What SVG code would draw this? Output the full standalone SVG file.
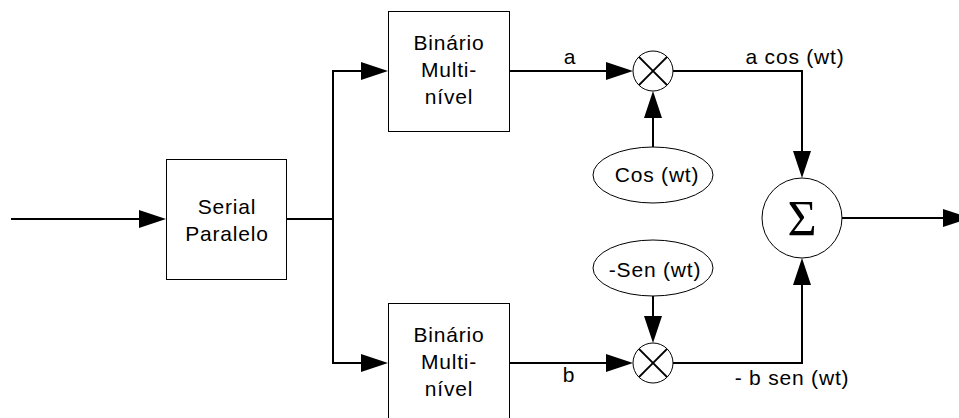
<svg xmlns="http://www.w3.org/2000/svg" width="959" height="418" viewBox="0 0 959 418">
<style>
.box{fill:#fff;stroke:#000;stroke-width:1}
.node{fill:#fff;stroke:#000;stroke-width:1}
.wire{fill:none;stroke:#000;stroke-width:2}
.x{stroke:#000;stroke-width:2}
text{font-family:"Liberation Sans",Arial,sans-serif;font-size:21px;letter-spacing:0.8px;fill:#000}
.c{text-anchor:middle}
.sig{font-family:"Liberation Serif","Times New Roman",serif;font-size:50px;letter-spacing:0}
</style>
<defs>
<marker id="ah" markerUnits="userSpaceOnUse" viewBox="0 0 27 18" refX="0" refY="9" markerWidth="27" markerHeight="18" orient="auto">
<path d="M0,0 L27,9 L0,18 Z" fill="#000"/>
</marker>
</defs>
<g id="connectors">
<path class="wire" d="M11,219 H139" marker-end="url(#ah)"/>
<path class="wire" d="M287,219 H333"/>
<path class="wire" d="M333,363 V71 H361" marker-end="url(#ah)"/>
<path class="wire" d="M333,219 V363 H361" marker-end="url(#ah)"/>
<path class="wire" d="M510,71 H606" marker-end="url(#ah)"/>
<path class="wire" d="M510,363 H606" marker-end="url(#ah)"/>
<path class="wire" d="M653,147 V118" marker-end="url(#ah)"/>
<path class="wire" d="M653,296 V316" marker-end="url(#ah)"/>
<path class="wire" d="M673,71 H802 V151" marker-end="url(#ah)"/>
<path class="wire" d="M673,363 H802 V285" marker-end="url(#ah)"/>
<path class="wire" d="M842,218 H943" marker-end="url(#ah)"/>
<text x="570" y="64" class="c">a</text>
<text x="569" y="382" class="c">b</text>
<text x="795" y="64" class="c">a cos (wt)</text>
<text x="792" y="385" class="c">- b sen (wt)</text>
</g>
<g id="serial">
<rect class="box" x="166.5" y="159.5" width="120" height="120"/>
<text x="227" y="214" class="c">Serial</text>
<text x="227" y="241" class="c">Paralelo</text>
</g>
<g id="bin-top">
<rect class="box" x="388.5" y="11.5" width="121" height="120"/>
<text x="449" y="50" class="c">Binário</text>
<text x="449" y="77" class="c">Multi-</text>
<text x="449" y="104" class="c">nível</text>
</g>
<g id="bin-bottom">
<rect class="box" x="388.5" y="303.5" width="121" height="120"/>
<text x="449" y="342" class="c">Binário</text>
<text x="449" y="369" class="c">Multi-</text>
<text x="449" y="396" class="c">nível</text>
</g>
<g id="mult-top">
<circle class="node" cx="653" cy="71" r="20"/>
<line class="x" x1="638.9" y1="56.9" x2="667.1" y2="85.1"/>
<line class="x" x1="667.1" y1="56.9" x2="638.9" y2="85.1"/>
</g>
<g id="mult-bottom">
<circle class="node" cx="653" cy="363" r="20"/>
<line class="x" x1="638.9" y1="348.9" x2="667.1" y2="377.1"/>
<line class="x" x1="667.1" y1="348.9" x2="638.9" y2="377.1"/>
</g>
<g id="cos">
<ellipse class="node" cx="653" cy="175" rx="60" ry="28"/>
<text x="657" y="182" class="c">Cos (wt)</text>
</g>
<g id="sen">
<ellipse class="node" cx="653" cy="268" rx="60" ry="28"/>
<text x="655" y="277" class="c">-Sen (wt)</text>
</g>
<g id="sum">
<circle class="node" cx="802" cy="218" r="40"/>
<text x="802" y="235" class="c sig">Σ</text>
</g>
</svg>
